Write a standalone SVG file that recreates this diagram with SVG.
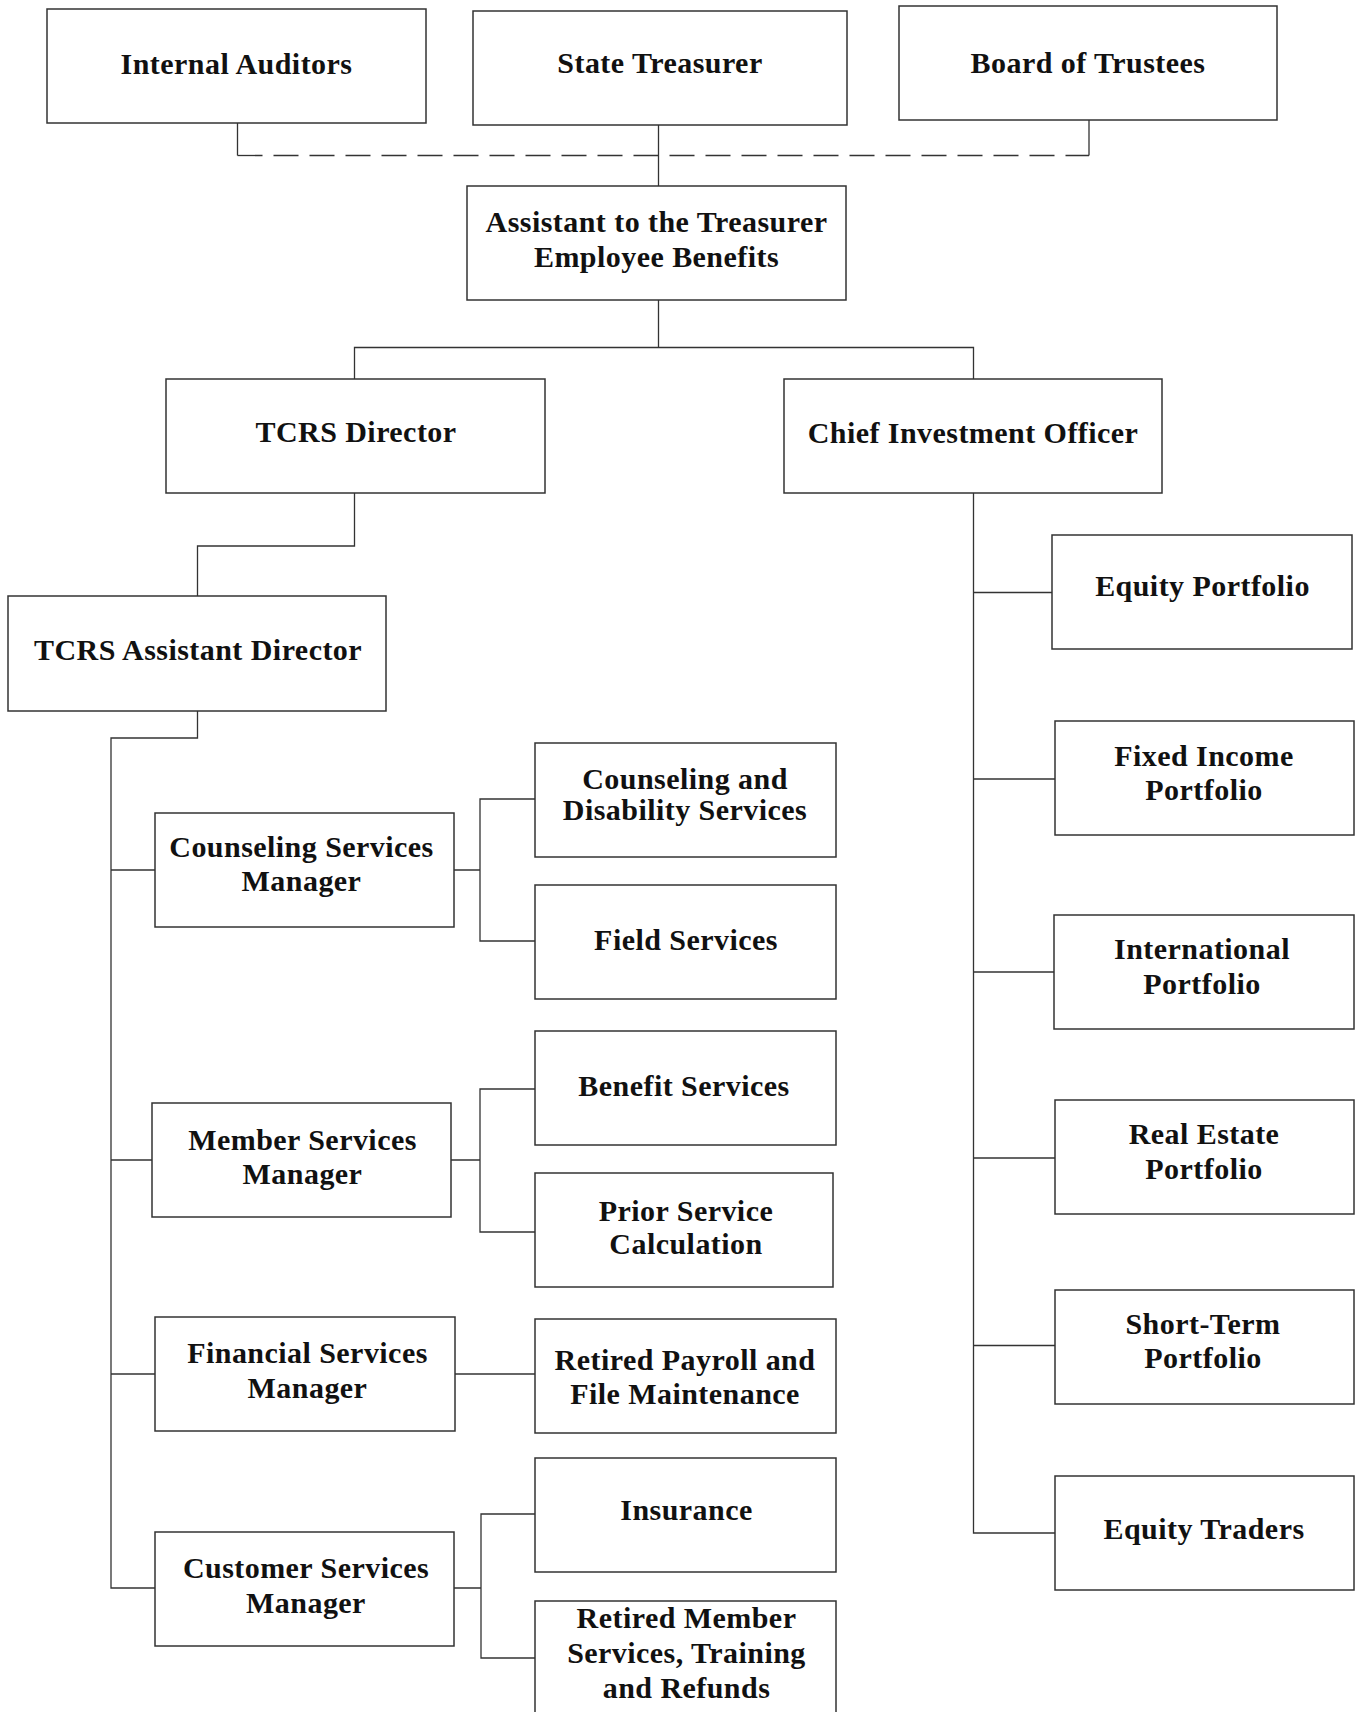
<svg xmlns="http://www.w3.org/2000/svg" width="1357" height="1712" viewBox="0 0 1357 1712">
<style>
.box{fill:#fff;stroke:#333;stroke-width:1.5}
.ln{fill:none;stroke:#333;stroke-width:1.3}
.dash{stroke-dasharray:25 11}
.t{font-family:"Liberation Serif","Times New Roman",serif;font-weight:bold;font-size:30px;letter-spacing:0.45px;text-anchor:middle;fill:#111}
</style>
<rect width="1357" height="1712" fill="#fff"/>
<g id="connectors">
<path class="ln" d="M237.5,123 V155.5 M1089,155.5 V120"/>
<path class="ln dash" d="M237.5,155.5 H1089"/>
<path class="ln" d="M658.5,125 V186"/>
<path class="ln" d="M658.5,300 V347.5 M354.5,379 V347.5 H973.5 V379"/>
<path class="ln" d="M354.5,493 V546 H197.5 V596"/>
<path class="ln" d="M973.5,493 V1533 H1055 M973.5,592.5 H1052 M973.5,779 H1055 M973.5,972 H1054 M973.5,1158 H1055 M973.5,1345.5 H1055"/>
<path class="ln" d="M197.5,711 V738 H111 V1588 H155 M111,870 H155 M111,1160 H152 M111,1374 H155"/>
<path class="ln" d="M454,870 H480 M535,799 H480 V941 H535"/>
<path class="ln" d="M451,1160 H480 M535,1089 H480 V1232 H535"/>
<path class="ln" d="M455,1374 H535"/>
<path class="ln" d="M454,1588 H481 M535,1514 H481 V1658 H535"/>
</g>
<g id="internal-auditors"><rect class="box" x="47" y="9" width="379" height="114"/><text class="t" x="236.5" y="74">Internal  Auditors</text></g>
<g id="state-treasurer"><rect class="box" x="473" y="11" width="374" height="114"/><text class="t" x="660" y="73">State Treasurer</text></g>
<g id="board-of-trustees"><rect class="box" x="899" y="6" width="378" height="114"/><text class="t" x="1088" y="73">Board of Trustees</text></g>
<g id="assistant"><rect class="box" x="467" y="186" width="379" height="114"/><text class="t" x="656.5" y="232">Assistant to the Treasurer</text><text class="t" x="656.5" y="267">Employee Benefits</text></g>
<g id="tcrs-director"><rect class="box" x="166" y="379" width="379" height="114"/><text class="t" x="356" y="442">TCRS Director</text></g>
<g id="cio"><rect class="box" x="784" y="379" width="378" height="114"/><text class="t" x="973" y="443">Chief Investment Officer</text></g>
<g id="tcrs-assistant-director"><rect class="box" x="8" y="596" width="378" height="115"/><text class="t" x="198" y="660">TCRS Assistant Director</text></g>
<g id="equity-portfolio"><rect class="box" x="1052" y="535" width="300" height="114"/><text class="t" x="1202.5" y="596">Equity Portfolio</text></g>
<g id="fixed-income"><rect class="box" x="1055" y="721" width="299" height="114"/><text class="t" x="1204" y="766">Fixed Income</text><text class="t" x="1204" y="800">Portfolio</text></g>
<g id="international"><rect class="box" x="1054" y="915" width="300" height="114"/><text class="t" x="1202" y="959">International</text><text class="t" x="1202" y="994">Portfolio</text></g>
<g id="real-estate"><rect class="box" x="1055" y="1100" width="299" height="114"/><text class="t" x="1204" y="1144">Real Estate</text><text class="t" x="1204" y="1179">Portfolio</text></g>
<g id="short-term"><rect class="box" x="1055" y="1290" width="299" height="114"/><text class="t" x="1203" y="1334">Short-Term</text><text class="t" x="1203" y="1368">Portfolio</text></g>
<g id="equity-traders"><rect class="box" x="1055" y="1476" width="299" height="114"/><text class="t" x="1204" y="1539">Equity Traders</text></g>
<g id="counseling-services-manager"><rect class="box" x="155" y="813" width="299" height="114"/><text class="t" x="301.5" y="857">Counseling Services</text><text class="t" x="301.5" y="891">Manager</text></g>
<g id="counseling-disability"><rect class="box" x="535" y="743" width="301" height="114"/><text class="t" x="685" y="789">Counseling and</text><text class="t" x="685" y="820">Disability Services</text></g>
<g id="field-services"><rect class="box" x="535" y="885" width="301" height="114"/><text class="t" x="686" y="950">Field Services</text></g>
<g id="benefit-services"><rect class="box" x="535" y="1031" width="301" height="114"/><text class="t" x="684" y="1096">Benefit Services</text></g>
<g id="member-services-manager"><rect class="box" x="152" y="1103" width="299" height="114"/><text class="t" x="302.5" y="1150">Member Services</text><text class="t" x="302.5" y="1184">Manager</text></g>
<g id="prior-service"><rect class="box" x="535" y="1173" width="298" height="114"/><text class="t" x="686" y="1221">Prior Service</text><text class="t" x="686" y="1254">Calculation</text></g>
<g id="financial-services-manager"><rect class="box" x="155" y="1317" width="300" height="114"/><text class="t" x="307.5" y="1363">Financial Services</text><text class="t" x="307.5" y="1398">Manager</text></g>
<g id="retired-payroll"><rect class="box" x="535" y="1319" width="301" height="114"/><text class="t" x="685" y="1370">Retired Payroll and</text><text class="t" x="685" y="1404">File Maintenance</text></g>
<g id="insurance"><rect class="box" x="535" y="1458" width="301" height="114"/><text class="t" x="686.5" y="1520">Insurance</text></g>
<g id="customer-services-manager"><rect class="box" x="155" y="1532" width="299" height="114"/><text class="t" x="306" y="1578">Customer Services</text><text class="t" x="306" y="1613">Manager</text></g>
<g id="retired-member-services"><rect class="box" x="535" y="1601" width="301" height="130"/><text class="t" x="686.5" y="1628">Retired Member</text><text class="t" x="686.5" y="1663">Services, Training</text><text class="t" x="686.5" y="1698">and Refunds</text></g>
</svg>
